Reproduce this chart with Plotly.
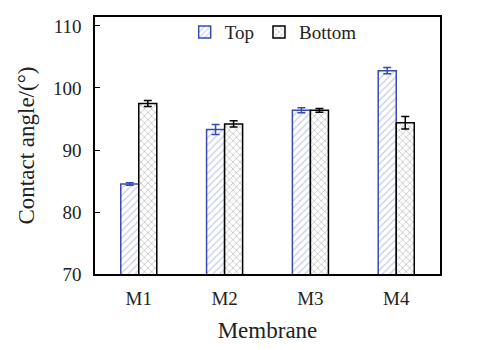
import plotly.graph_objects as go

categories = ["M1", "M2", "M3", "M4"]
top_vals = [84.5, 93.3, 96.4, 102.8]
top_err = [0.2, 0.8, 0.4, 0.5]
bottom_vals = [97.5, 94.2, 96.4, 94.4]
bottom_err = [0.5, 0.5, 0.3, 1.0]

font_family = "Liberation Serif, Times New Roman, serif"

fig = go.Figure()
fig.add_trace(go.Bar(
    x=categories, y=top_vals, name="Top",
    marker=dict(color="white", line=dict(color="#3a4bb0", width=1.5),
                pattern=dict(shape="/", fgcolor="#8a97d8", bgcolor="white", size=5, solidity=0.25)),
    error_y=dict(type="data", array=top_err, color="#3a4bb0", thickness=1.5, width=4),
))
fig.add_trace(go.Bar(
    x=categories, y=bottom_vals, name="Bottom",
    marker=dict(color="white", line=dict(color="black", width=1.5),
                pattern=dict(shape="x", fgcolor="#777777", bgcolor="white", size=5, solidity=0.25)),
    error_y=dict(type="data", array=bottom_err, color="black", thickness=1.5, width=4),
))

fig.update_layout(
    width=491, height=350,
    margin=dict(l=95, r=51, t=17, b=76),
    paper_bgcolor="white", plot_bgcolor="white",
    font=dict(family=font_family, size=19, color="#222"),
    barmode="group", bargap=0.58, bargroupgap=0,
    showlegend=True,
    legend=dict(orientation="h", x=0.26, xanchor="left", y=1.015, yanchor="top",
                bgcolor="rgba(0,0,0,0)", font=dict(size=19), traceorder="normal",
                itemwidth=30, tracegroupgap=0),
    xaxis=dict(range=[-0.51, 3.51], showline=True, linecolor="black", linewidth=1.5,
               mirror=True, ticks="", ticklabelstandoff=6,
               title=dict(text="Membrane", standoff=14),
               showgrid=False),
    yaxis=dict(range=[70, 111.45], showline=True, linecolor="black", linewidth=1.5,
               mirror=True, ticks="inside", ticklen=5, tickcolor="black",
               tickvals=[70, 80, 90, 100, 110], ticklabelstandoff=8,
               title=dict(text="Contact angle/(°)", standoff=12), showgrid=False, zeroline=False),
)

fig.write_html("out.html")
